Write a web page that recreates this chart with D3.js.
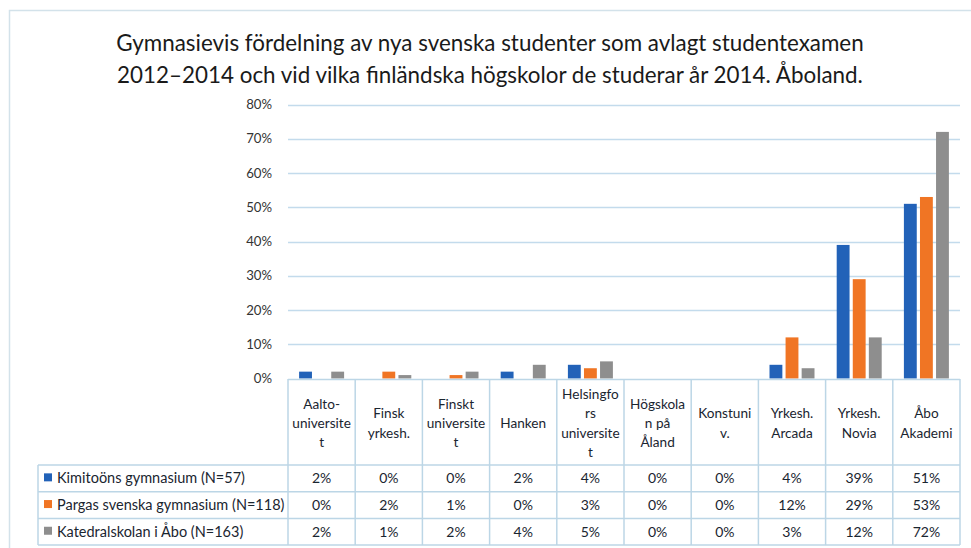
<!DOCTYPE html>
<html><head><meta charset="utf-8">
<script src="https://cdn.jsdelivr.net/npm/d3@7"></script>
<style>
html,body{margin:0;padding:0;background:#fff;}
svg{display:block;}
text{font-family:Lato,"Open Sans",sans-serif;}
</style></head>
<body>
<svg id="chart" width="971" height="548"></svg>
<script>
const titleLines = ["Gymnasievis fördelning av nya svenska studenter som avlagt studentexamen",
  "2012–2014 och vid vilka finländska högskolor de studerar år 2014. Åboland."];
const categories = ["Aalto-universitet","Finsk yrkesh.","Finskt universitet","Hanken","Helsingfors universitet","Högskolan på Åland","Konstuniv.","Yrkesh. Arcada","Yrkesh. Novia","Åbo Akademi"];
const categoryLines = [["Aalto-","universite","t"],["Finsk","yrkesh."],["Finskt","universite","t"],["Hanken"],["Helsingfo","rs","universite","t"],["Högskola","n på","Åland"],["Konstuni","v."],["Yrkesh.","Arcada"],["Yrkesh.","Novia"],["Åbo","Akademi"]];
const seriesNames = ["Kimitoöns gymnasium (N=57)","Pargas svenska gymnasium (N=118)","Katedralskolan i Åbo (N=163)"];
const kimito = [2,0,0,2,4,0,0,4,39,51];
const pargas = [0,2,1,0,3,0,0,12,29,53];
const katedral = [2,1,2,4,5,0,0,3,12,72];
const seriesValues = [kimito, pargas, katedral];
const colors = ["#2262b8","#f07524","#8e8e8e"];
const yTicks = [0,10,20,30,40,50,60,70,80];

const svg = d3.select("#chart");
// outer frame
svg.append("rect").attr("x",9.5).attr("y",10.5).attr("width",980).attr("height",560)
  .attr("fill","none").attr("stroke","#d3e2ea").attr("stroke-width",1.5);

// title
svg.append("g").selectAll("text").data(titleLines).join("text")
  .attr("x",490).attr("y",(d,i)=>51+i*32).attr("text-anchor","middle")
  .attr("font-size",22.4).attr("fill","#1a1a1a").text(d=>d);

const x = d3.scaleBand().domain(categories).range([288,960]).padding(0);
const y = d3.scaleLinear().domain([0,80]).range([378.5,104.5]);
const xs = d3.scaleBand().domain(d3.range(3)).range([0,45]).paddingInner(0.2).paddingOuter(0);

// gridlines
svg.append("g").selectAll("line").data(yTicks.filter(t=>t>0)).join("line")
  .attr("x1",288).attr("x2",960).attr("y1",d=>Math.round(y(d))+0.5).attr("y2",d=>Math.round(y(d))+0.5)
  .attr("stroke","#c3dbec").attr("stroke-width",1.3);

// y axis
const yAxis = d3.axisLeft(y).tickValues(yTicks).tickFormat(d=>d+"%").tickSize(0).tickPadding(0);
const yg = svg.append("g").attr("transform","translate(272,0)").call(yAxis);
yg.select(".domain").remove();
yg.selectAll("text").attr("font-size",13.2).attr("fill","#333").attr("font-family","Lato,sans-serif");

// bars
const groups = svg.append("g").selectAll("g").data(categories).join("g")
  .attr("transform",d=>`translate(${x(d)+(x.bandwidth()-45)/2},0)`);
groups.selectAll("rect").data((d,i)=>seriesValues.map((s,k)=>({k,v:s[i]}))).join("rect")
  .attr("x",d=>xs(d.k)).attr("width",xs.bandwidth())
  .attr("y",d=>y(d.v)).attr("height",d=>y(0)-y(d.v))
  .attr("fill",d=>colors[d.k]);

// table
const lineC = "#bcd6e6";
const hTop = 379, hBot = 465, rowH = 26.7, legX = 38, right = 960;
const rowYs = [hBot, hBot+rowH, hBot+2*rowH, hBot+3*rowH];
const tg = svg.append("g");
tg.append("line").attr("x1",288).attr("x2",right).attr("y1",hTop+0.5).attr("y2",hTop+0.5).attr("stroke",lineC).attr("stroke-width",1.5);
rowYs.forEach(ry=>tg.append("line").attr("x1",legX).attr("x2",right).attr("y1",ry).attr("y2",ry).attr("stroke",lineC).attr("stroke-width",1.5));
const colEdges = categories.map(c=>x(c)).concat([x.range()[1]]);
tg.selectAll("line.v").data(colEdges).join("line").attr("class","v")
  .attr("x1",d=>d).attr("x2",d=>d).attr("y1",hTop).attr("y2",rowYs[3])
  .attr("stroke",lineC).attr("stroke-width",1.5);
tg.append("line").attr("x1",legX).attr("x2",legX).attr("y1",hBot).attr("y2",rowYs[3]).attr("stroke",lineC).attr("stroke-width",1.5);

// header texts
categories.forEach((c,i)=>{
  const lines = categoryLines[i];
  const lh = 19.3;
  const cy = 423;
  const t = tg.append("text").attr("text-anchor","middle").attr("font-size",13.6).attr("fill","#1a2530");
  lines.forEach((l,j)=>{
    t.append("tspan").attr("x",x(c)+x.bandwidth()/2)
     .attr("y",cy + (j-(lines.length-1)/2)*lh + 5).text(l);
  });
});

// legend rows & values
seriesNames.forEach((n,k)=>{
  const cy = rowYs[k]+rowH/2;
  tg.append("rect").attr("x",44).attr("y",cy-5).attr("width",8).attr("height",8).attr("fill",colors[k]);
  tg.append("text").attr("x",57).attr("y",cy+5).attr("font-size",14.5).attr("fill","#1a2530").text(n);
  categories.forEach((c,i)=>{
    tg.append("text").attr("x",x(c)+x.bandwidth()/2).attr("y",cy+4.8).attr("text-anchor","middle")
      .attr("font-size",14).attr("fill","#1a2530").text(seriesValues[k][i]+"%");
  });
});
</script>
</body></html>
